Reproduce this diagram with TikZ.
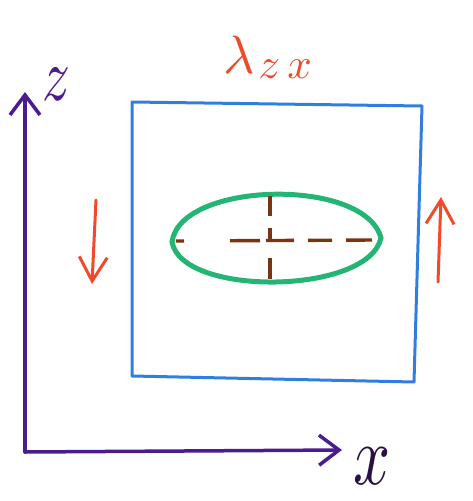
\documentclass[tikz,border=0pt]{standalone}
\usepackage{graphicx}
\usetikzlibrary{arrows.meta,shapes.geometric}
\definecolor{axpurple}{HTML}{4A1C8C}
\definecolor{xdark}{HTML}{2A1040}
\definecolor{sqblue}{HTML}{2F7FE0}
\definecolor{ellgreen}{HTML}{22B573}
\definecolor{redor}{HTML}{F04A2A}
\definecolor{brownd}{HTML}{7A3410}
\tikzset{
  axisline/.style={draw=axpurple, line width=3.5pt, line cap=round, line join=round},
  axtip/.style={-{Straight Barb[length=20pt,width=30pt,line width=3.5pt]}},
  sq/.style={draw=sqblue, line width=3pt, line join=round},
  ell/.style={draw=ellgreen, line width=5pt},
  redarrow/.style={draw=redor, line width=3pt, line cap=round, -{Straight Barb[length=24pt,width=28pt]}},
  brdash/.style={draw=brownd, line width=3.4pt, dash pattern=on 26pt off 13pt},
  lbl/.style={inner sep=0pt}
}
\begin{document}
\begin{tikzpicture}[x=1pt,y=-1pt]
\useasboundingbox (0,0) rectangle (473,501);
% axes
\coordinate (O) at (25,452);
\coordinate (zend) at (25,92);
\coordinate (xend) at (342,450);
\draw[axisline, axtip] (O) -- (zend);
\draw[axisline, axtip] (O) -- (xend);
\node[lbl, text=axpurple] (zl) at (56,84) {\scalebox{5.5}[7.5]{$z$}};
\node[lbl, text=xdark] (xl) at (372,466) {\scalebox{6.5}[8.5]{$x$}};
% label
\node[lbl, text=redor, anchor=base] (lam) at (268,73) {\scalebox{5.4}{$\lambda$}\hspace{3pt}\raisebox{-5pt}{\scalebox{4.3}{$z\,x$}}};
% square
\coordinate (A) at (132,102);
\coordinate (B) at (422,106);
\coordinate (C) at (414,382);
\coordinate (D) at (132,376);
\draw[sq] (A) -- (B) -- (C) -- (D) -- cycle;
% ellipse
\coordinate (eL) at (172,242);
\coordinate (eR) at (381,238);
\draw[ell] (eL) .. controls (180,181) and (365,177) .. (eR)
               .. controls (368,295) and (182,297) .. (eL) -- cycle;
\coordinate (hl) at (176,241);
\coordinate (hr) at (374,240);
\coordinate (vt) at (270,196);
\coordinate (vb) at (270,279);
\draw[brdash, dash pattern=on 8pt off 46pt on 30pt off 6pt on 28pt off 14pt on 24pt off 14pt on 26pt off 40pt] (hl) -- (hr);
\draw[brdash, dash pattern=on 20pt off 12pt on 14pt off 16pt on 30pt off 20pt] (vt) -- (vb);
% shear arrows
\coordinate (l1) at (96,200);
\coordinate (l2) at (92,284);
\coordinate (r1) at (438,282);
\coordinate (r2) at (441,197);
\draw[redarrow] (l1) -- (l2);
\draw[redarrow] (r1) -- (r2);
\end{tikzpicture}
\end{document}
